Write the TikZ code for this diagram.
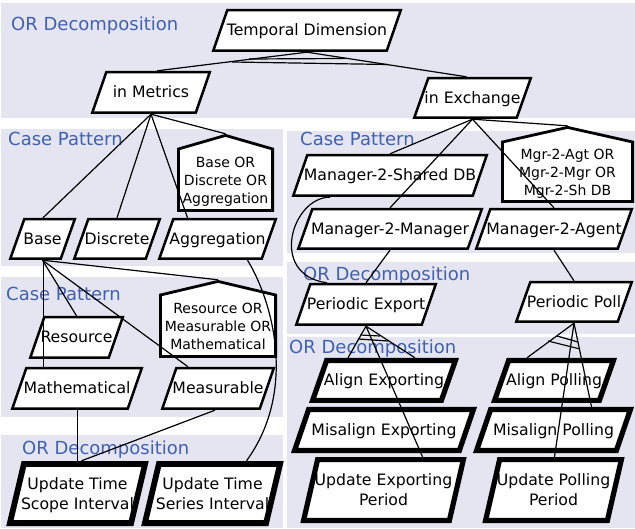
\documentclass[tikz,border=0pt]{standalone}
\usepackage{fontspec}
\setmainfont{DejaVu Sans}
\definecolor{panel}{HTML}{E5E5F2}
\definecolor{tagblue}{HTML}{4060B0}
\tikzset{
  x=1pt,y=-1pt,
  panelbox/.style={fill=panel,draw=none},
  tag/.style={text=tagblue,font=\fontsize{18}{21}\selectfont,anchor=base west,inner sep=0pt},
  label/.style={inner sep=0pt,align=center,font=\fontsize{15.7}{20}\selectfont},
  small/.style={inner sep=0pt,align=center,font=\fontsize{14}{18}\selectfont},
  conn/.style={draw=black,line width=1.2pt},
}
% name, xl, xr, ytop, ybot, line width, text
\newcommand{\pgram}[7]{%
  \pgfmathsetmacro{\hw}{#6/2}%
  \pgfmathsetmacro{\xA}{#2+\hw}\pgfmathsetmacro{\xB}{#2+\hw+14}%
  \pgfmathsetmacro{\xC}{#3-\hw}\pgfmathsetmacro{\xD}{#3-\hw-14}%
  \pgfmathsetmacro{\yA}{#4+\hw}\pgfmathsetmacro{\yB}{#5-\hw}%
  \filldraw[fill=white,draw=black,line width=#6pt,miter limit=3]
    (\xA,\yB) -- (\xB,\yA) -- (\xC,\yA) -- (\xD,\yB) -- cycle;
  \pgfmathsetmacro{\cx}{(#2+#3)/2}\pgfmathsetmacro{\cy}{(#4+#5)/2}%
  \pgfmathsetmacro{\bw}{#3-#2}\pgfmathsetmacro{\bh}{#5-#4}%
  \node[label,minimum width=\bw pt,minimum height=\bh pt] (#1) at (\cx,\cy) {\rule{0pt}{17pt}#7\strut};}
% name, xl, xr, yapex, yshoulder, ybot, text
\newcommand{\penta}[7]{%
  \pgfmathsetmacro{\cx}{(#2+#3)/2}\pgfmathsetmacro{\cy}{(#5+#6)/2}%
  \filldraw[fill=white,draw=black,line width=2.8pt,miter limit=3]
    (#2+1.4,#6-1.4) -- (#2+1.4,#5) -- (\cx,#4+1.4) -- (#3-1.4,#5) -- (#3-1.4,#6-1.4) -- cycle;
  \pgfmathsetmacro{\bw}{#3-#2}\pgfmathsetmacro{\bh}{#6-#4}%
  \pgfmathsetmacro{\cyy}{(#4+#6)/2}%
  \node[small,minimum width=\bw pt,minimum height=\bh pt] (#1) at (\cx,\cyy) {};
  \node[small] (#1t) at (\cx,\cy) {\rule{0pt}{14.6pt}#7\strut};}
\begin{document}
\begin{tikzpicture}
\useasboundingbox (0,0) rectangle (635,529);
\fill[white] (0,0) rectangle (635,529);
% panels
\fill[panelbox] (1,3) rectangle (635,118);
\fill[panelbox] (1,129) rectangle (283,266);
\fill[panelbox] (287,131) rectangle (635,253);
\fill[panelbox] (287,262) rectangle (635,334);
\fill[panelbox] (287,337) rectangle (635,528);
\fill[panelbox] (1,277) rectangle (283,417);
\fill[panelbox] (1,435) rectangle (283,528);
% tags
\node[tag] (t1) at (11,31) {OR Decomposition};
\node[tag] (t2) at (8,146) {Case Pattern};
\node[tag] (t3) at (300,146) {Case Pattern};
\node[tag] (t4) at (6,301) {Case Pattern};
\node[tag] (t5) at (303,281) {OR Decomposition};
\node[tag] (t6) at (289,354) {OR Decomposition};
\node[tag] (t7) at (22,454) {OR Decomposition};
% nodes
\pgram{temporal}{212}{402}{9}{52}{2.5}{Temporal Dimension}
\pgram{metrics}{91}{211}{71}{114}{2.5}{in Metrics}
\pgram{exchange}{413}{532}{77}{119}{2.5}{in Exchange}
\pgram{base}{9}{76}{218}{260}{2.5}{Base}
\pgram{discrete}{73}{161}{218}{260}{2.5}{Discrete}
\pgram{aggregation}{158}{277}{218}{260}{2.5}{Aggregation}
\pgram{shared}{292}{488}{154}{197}{2.5}{Manager-2-Shared DB}
\pgram{manager}{297}{483}{208}{250}{2.5}{Manager-2-Manager}
\pgram{agent}{475}{633}{208}{250}{2.5}{Manager-2-Agent}
\pgram{resource}{29}{124}{316}{359}{2.5}{Resource}
\pgram{mathematical}{11}{143}{367}{410}{2.5}{Mathematical}
\pgram{measurable}{161}{275}{367}{410}{2.5}{Measurable}
\pgram{scope}{7}{148}{461}{526}{5.8}{Update Time\\\strut Scope Interval}
\pgram{series}{142}{283}{461}{526}{5.8}{Update Time\\\strut Series Interval}
\pgram{export}{295}{437}{283}{326}{2.5}{Periodic Export}
\pgram{poll}{515}{633}{281}{323}{2.5}{Periodic Poll}
\pgram{alignexp}{310}{458}{358}{403}{5.2}{Align Exporting}
\pgram{misexp}{292}{476}{407}{453}{5.2}{Misalign Exporting}
\pgram{updexp}{301}{466}{457}{523}{5.2}{Update Exporting\\\strut Period}
\pgram{alignpoll}{492}{616}{358}{403}{5.2}{Align Polling}
\pgram{mispoll}{474}{633}{407}{453}{5.2}{Misalign Polling}
\pgram{updpoll}{483}{624}{457}{523}{5.2}{Update Polling\\\strut Period}
\penta{gbase}{177}{274}{134}{149}{212}{Base OR\\\strut Discrete OR\\\strut Aggregation}
\penta{gmgr}{501}{634}{126}{142}{203}{Mgr-2-Agt OR\\\strut Mgr-2-Mgr OR\\\strut Mgr-2-Sh DB}
\penta{gres}{159}{277}{280}{295}{358}{Resource OR\\\strut Measurable OR\\\strut Mathematical}
% connectors
\draw[conn] (temporal.south) -- ([xshift=6]metrics.north);
\draw[conn] (temporal.south) -- ([xshift=-6]exchange.north);
\draw[conn] (metrics.south) -- ([xshift=0.5]base.north);
\draw[conn] (metrics.south) -- (discrete.north);
\draw[conn] (metrics.south) -- ([xshift=-30]aggregation.north);
\draw[conn] (metrics.south) -- (gbase.north);
\draw[conn] (exchange.south) -- (shared.north);
\draw[conn] (exchange.south) -- (manager.north);
\draw[conn] (exchange.south) -- (agent.north);
\draw[conn] (exchange.south) -- (gmgr.north);
\draw[conn] ([xshift=1]base.south) -- ([xshift=-33.5]mathematical.north);
\draw[conn] (base.south) -- (resource.north);
\draw[conn] (base.south) -- ([xshift=-30]measurable.north);
\draw[conn] (base.south) -- (gres.north);
\draw[conn] ([xshift=30]aggregation.south) .. controls (272,300) and (298,390) .. ([xshift=34]series.north);
\draw[conn] ([xshift=0.5]mathematical.south) -- (scope.north);
\draw[conn] ([xshift=-3]measurable.south) -- ([xshift=4]scope.north);
\draw[conn] ([xshift=-60]shared.south) .. controls (292,197) and (268,275) .. ([xshift=-39]export.north);
\draw[conn] (manager.south) -- (export.north);
\draw[conn] (agent.south) -- (poll.north);
\draw[conn] (export.south) -- ([xshift=-36]alignexp.north);
\draw[conn] (export.south) -- ([xshift=31]alignexp.north);
\draw[conn] (export.south) -- ([xshift=39]updexp.north);
\draw[conn] (poll.south) -- ([xshift=-27]alignpoll.north);
\draw[conn] (poll.south) -- ([xshift=38]mispoll.north);
\draw[conn] (poll.south) -- ([xshift=1]updpoll.north);
% decomposition bars
\coordinate (b1a) at (249,59); \coordinate (b1b) at (345,58.5);
\coordinate (b2a) at (232,62); \coordinate (b2b) at (388,64.5);
\coordinate (b3a) at (360,335); \coordinate (b3b) at (380,336);
\coordinate (b4a) at (358,339); \coordinate (b4b) at (388,341);
\coordinate (b5a) at (557,336); \coordinate (b5b) at (578,342);
\coordinate (b6a) at (548,341); \coordinate (b6b) at (580,349);
\draw[conn] (b1a) -- (b1b);
\draw[conn] (b2a) -- (b2b);
\draw[conn] (b3a) -- (b3b);
\draw[conn] (b4a) -- (b4b);
\draw[conn] (b5a) -- (b5b);
\draw[conn] (b6a) -- (b6b);
\end{tikzpicture}
\end{document}
